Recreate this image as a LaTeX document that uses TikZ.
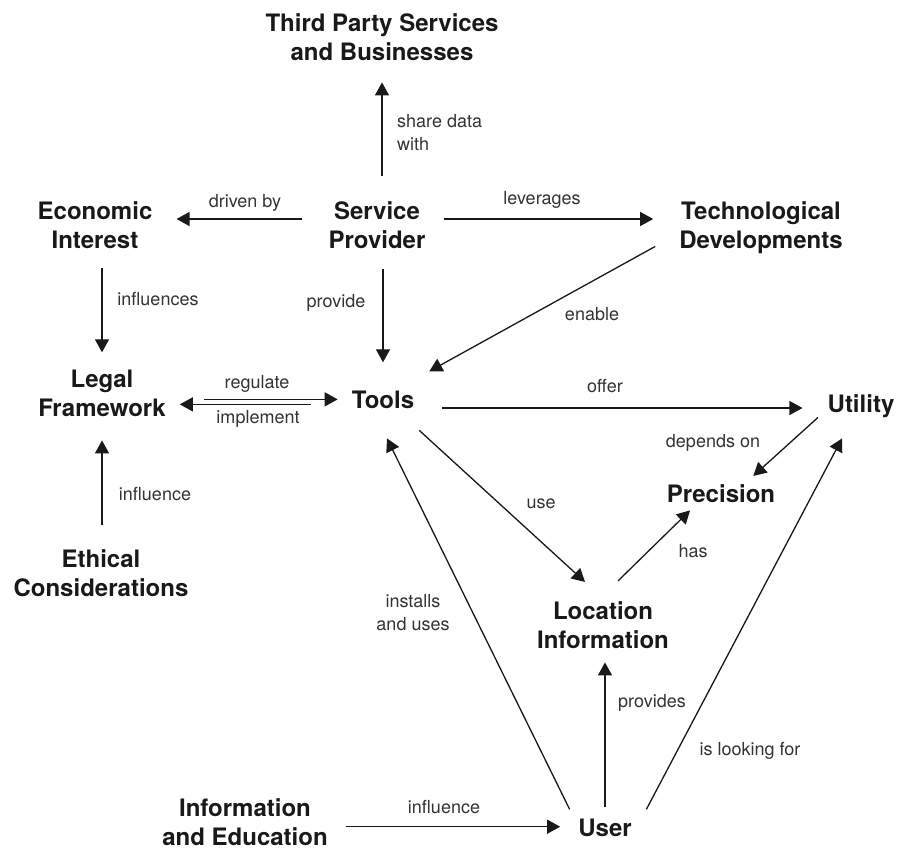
\documentclass[tikz,border=0pt]{standalone}
\usepackage{fontspec}
\setmainfont{TeX Gyre Heros}
\usetikzlibrary{arrows.meta,calc}

\tikzset{
  concept/.style={font=\bfseries\fontsize{24}{29}\selectfont,align=center,inner sep=0pt,text=black!90},
  rel/.style={font=\fontsize{18}{22.5}\selectfont,inner sep=0pt,text=black!80},
  arr/.style={-{Triangle[length=13pt,width=14pt]},line width=1.3pt,draw=black!90,fill=black!90},
}

\begin{document}
\begin{tikzpicture}[x=1pt,y=-1pt]
	\useasboundingbox (0,0) rectangle (901,852);
	%NODES (base = baseline of the last line)
	\node[concept,anchor=base] (tp) at (382,60) {Third Party Services\\and Businesses};
	\node[concept,anchor=base] (sp) at (377,248) {Service\\Provider};
	\node[concept,anchor=base] (econ) at (95,248) {Economic\\Interest};
	\node[concept,anchor=base] (tech) at (761,248) {Technological\\Developments};
	\node[concept,anchor=base] (legal) at (102,416) {Legal\\Framework};
	\node[concept,anchor=base] (tools) at (383,408) {Tools};
	\node[concept,anchor=base] (utility) at (861,412) {Utility};
	\node[concept,anchor=base] (prec) at (721,502) {Precision};
	\node[concept,anchor=base] (ethic) at (101,596) {Ethical\\Considerations};
	\node[concept,anchor=base] (loc) at (603,648) {Location\\Information};
	\node[concept,anchor=base] (info) at (245,845) {Information\\and Education};
	\node[concept,anchor=base] (user) at (605,836) {User};

	%ARROWS
	\draw[arr,shorten <=25pt,shorten >=22pt] (tp.south |- sp.north) -- (tp.south);
	\draw[arr,shorten <=26pt,shorten >=24pt] ([yshift=29pt]sp.base west) -- ([yshift=29pt]econ.base east);
	\draw[arr,shorten <=18pt,shorten >=26pt] ([yshift=29pt]sp.base east) -- ([yshift=29pt]tech.base west);
	\draw[arr,shorten <=21pt,shorten >=28pt] (tools.north |- sp.south) -- (tools.north);
	\draw[arr] ([shift={(-24,-7)}]tech.south west) -- ([shift={(15,-19)}]tools.north east);
	\draw[arr,shorten <=20pt,shorten >=17pt] (legal.north |- econ.south) -- (legal.north);
	\draw[arr,shorten <=38pt,shorten >=14pt] (legal.east |- tools.west) -- (tools.west);
	\draw[arr,shorten <=41pt,shorten >=14pt] ([yshift=-5pt]tools.west) -- ([yshift=-5pt]tools.west -| legal.east);
	\draw[arr,shorten <=28pt,shorten >=25pt] (tools.base east) -- (tools.base east -| utility.west);
	\draw[arr] ([shift={(-9.5,0)}]utility.south west) -- ([shift={(-22,-8)}]prec.north east);
	\draw[arr,shorten <=24pt,shorten >=24pt] (legal.south |- ethic.north) -- (legal.south);
	\draw[arr] ([shift={(5,22)}]tools.south east) -- ([shift={(-18,-19)}]loc.north);
	\draw[arr] ([shift={(15,-20)}]loc.north) -- ([shift={(-31,8)}]prec.south);
	\draw[arr] ([shift={(-8.5,-9)}]user.north west) -- ([shift={(4,30)}]tools.south);
	\draw[arr,shorten <=11pt,shorten >=14pt] (user.north) -- (loc.south -| user.north);
	\draw[arr] ([shift={(14.5,-9)}]user.north east) -- ([shift={(-19,21)}]utility.south);
	\draw[arr,shorten <=18pt,shorten >=18pt] ([yshift=-5pt]info.east) -- ([yshift=-5pt]info.east -| user.west);

	%LABELS
	\node[rel,anchor=base west,align=left] (l_share) at (397,150) {share data\\with};
	\node[rel,anchor=base] (l_driven) at (245,207) {driven by};
	\node[rel,anchor=base] (l_lev) at (542,204) {leverages};
	\node[rel,anchor=base] (l_prov) at (336,307) {provide};
	\node[rel,anchor=base] (l_enable) at (592,320) {enable};
	\node[rel,anchor=base] (l_infs) at (158,305) {influences};
	\node[rel,anchor=base] (l_reg) at (257,388) {regulate};
	\node[rel,anchor=base] (l_impl) at (258,423) {implement};
	\node[rel,anchor=base] (l_offer) at (605,392) {offer};
	\node[rel,anchor=base] (l_dep) at (713,447) {depends on};
	\node[rel,anchor=base] (l_inf) at (155,500) {influence};
	\node[rel,anchor=base] (l_use) at (541,508) {use};
	\node[rel,anchor=base] (l_has) at (693,557) {has};
	\node[rel,anchor=base,align=center] (l_inst) at (413,630) {installs\\and uses};
	\node[rel,anchor=base] (l_provs) at (652,707) {provides};
	\node[rel,anchor=base] (l_look) at (750,755) {is looking for};
	\node[rel,anchor=base] (l_infe) at (444,813) {influence};
\end{tikzpicture}
\end{document}
